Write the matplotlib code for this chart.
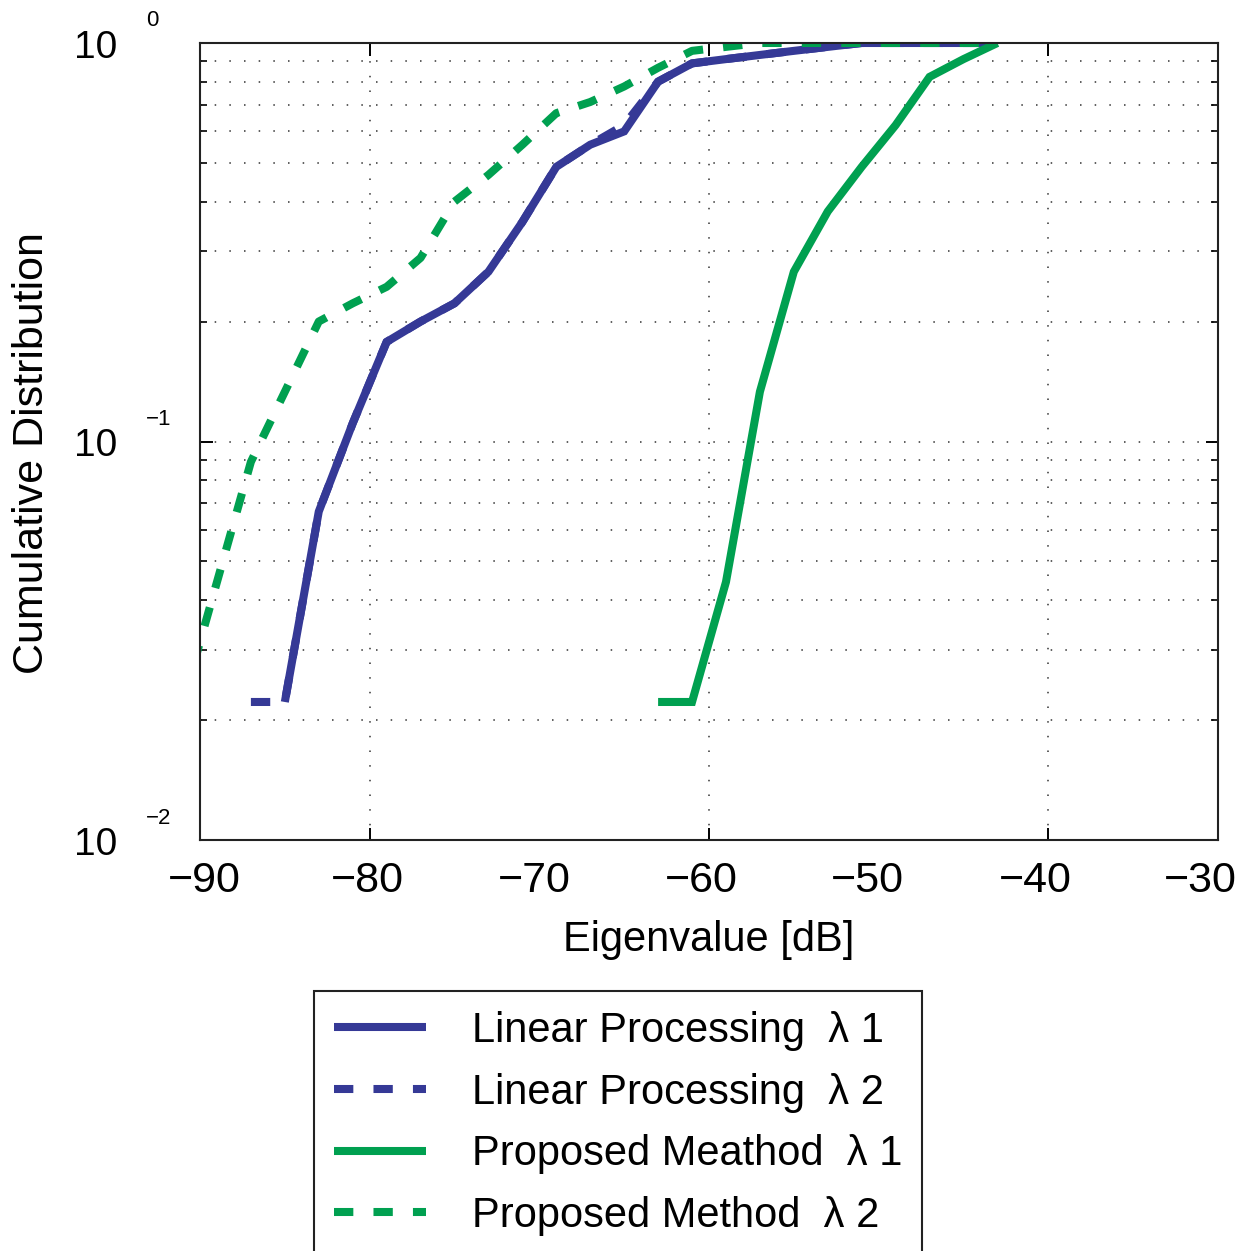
import matplotlib
matplotlib.use('Agg')
import matplotlib.pyplot as plt
from matplotlib.ticker import FixedLocator, NullFormatter, FixedFormatter
from matplotlib.transforms import offset_copy, ScaledTranslation

NARROW = ['Liberation Sans Narrow', 'Liberation Sans', 'DejaVu Sans']
plt.rcParams['font.family'] = NARROW

# ---------------- data ----------------
x_lin1 = [-85, -83, -81, -79, -77, -75, -73, -71, -69, -67, -65, -63, -61,
          -59, -57, -55, -53, -51, -49, -47, -45, -43]
y_lin1 = [0.0222, 0.0667, 0.1111, 0.1778, 0.2000, 0.2222, 0.2667, 0.3556,
          0.4889, 0.5556, 0.6000, 0.8000, 0.8889, 0.9111, 0.9333, 0.9556,
          0.9778, 1.0, 1.0, 1.0, 1.0, 1.0]

x_lin2 = [-87, -85, -83, -81, -79, -77, -75, -73, -71, -69, -67, -65, -63,
          -61, -59, -57, -55, -53, -51, -49, -47, -45, -43]
y_lin2 = [0.0222, 0.0222, 0.0667, 0.1111, 0.1778, 0.2000, 0.2222, 0.2667,
          0.3556, 0.4889, 0.5556, 0.6222, 0.8000, 0.8889, 0.9111, 0.9333,
          0.9556, 0.9778, 1.0, 1.0, 1.0, 1.0, 1.0]

x_prop1 = [-63, -61, -59, -57, -55, -53, -51, -49, -47, -45, -43]
y_prop1 = [0.0222, 0.0222, 0.0444, 0.1333, 0.2667, 0.3778, 0.4889, 0.6222,
           0.8222, 0.9111, 1.0]

x_prop2 = [-91, -89, -87, -85, -83, -81, -79, -77, -75, -73, -71, -69, -67,
           -65, -63, -61, -59, -57, -55, -53, -51, -49, -47, -45, -43]
y_prop2 = [0.0222, 0.0444, 0.0889, 0.1333, 0.2000, 0.2222, 0.2444, 0.2889,
           0.4000, 0.4667, 0.5556, 0.6667, 0.7111, 0.7778, 0.8667, 0.9556,
           0.9778, 1.0, 1.0, 1.0, 1.0, 1.0, 1.0, 1.0, 1.0]

labels = ['Linear Processing  λ 1', 'Linear Processing  λ 2',
          'Proposed Meathod  λ 1', 'Proposed Method  λ 2']

x_ticks = [-90, -80, -70, -60, -50, -40, -30]
x_ticklabels = ['−90', '−80', '−70', '−60', '−50', '−40', '−30']
x_gridticks = [-80, -60, -40]
y_major = [1e-2, 1e-1, 1e0]
y_exp = ['−2', '−1', '0']

BLUE = '#353996'
GREEN = '#00A050'

# ---------------- figure ----------------
W, H = 1243, 1251
fig = plt.figure(figsize=(W / 100, H / 100), dpi=100)
ax = fig.add_axes([200 / W, 1 - 840 / H, 1018 / W, 797 / H])

lw = 5.8
dash = (2.4, 2.5)
ax.plot(x_lin1, y_lin1, color=BLUE, lw=lw, solid_capstyle='butt',
        solid_joinstyle='miter', label=labels[0])
ax.plot(x_lin2, y_lin2, color=BLUE, lw=lw, dashes=dash,
        dash_capstyle='butt', label=labels[1])
ax.plot(x_prop1, y_prop1, color=GREEN, lw=lw, solid_capstyle='butt',
        solid_joinstyle='miter', label=labels[2])
ax.plot(x_prop2, y_prop2, color=GREEN, lw=lw, dashes=dash,
        dash_capstyle='butt', label=labels[3])

ax.set_yscale('log')
ax.set_xlim(-90, -30)
ax.set_ylim(1e-2, 1e0)

# x ticks: labels every 10, marks + grid every 20
ax.xaxis.remove_overlapping_locs = False
ax.xaxis.set_major_locator(FixedLocator(x_ticks))
ax.xaxis.set_major_formatter(FixedFormatter(x_ticklabels))
ax.xaxis.set_minor_locator(FixedLocator(x_gridticks))
ax.xaxis.set_minor_formatter(NullFormatter())
ax.tick_params(axis='x', which='major', length=0, pad=15, labelsize=31)
ax.tick_params(axis='x', which='minor', length=9, width=1.4, direction='in',
               top=True, bottom=True)
# slight leftward drift of labels as in the reference
shifts = [4, -2, -5, -8, -11, -13, -18]
for lab, dx in zip(ax.get_xticklabels(), shifts):
    lab.set_transform(lab.get_transform() + ScaledTranslation(dx / 100, 0, fig.dpi_scale_trans))

# y ticks
ax.yaxis.set_major_formatter(NullFormatter())
ax.yaxis.set_minor_formatter(NullFormatter())
ax.tick_params(axis='y', which='major', length=9, width=1.4, direction='in',
               left=True, right=True)
ax.tick_params(axis='y', which='minor', length=5, width=1.2, direction='in',
               left=True, right=True)

grid_kw = dict(color='#333333', lw=1.1, dashes=(1.0, 8.6))
ax.xaxis.grid(True, which='minor', **grid_kw)
ax.yaxis.grid(True, which='both', **grid_kw)
ax.set_axisbelow(True)

for s in ax.spines.values():
    s.set_linewidth(1.5)
    s.set_color('#222222')

# MATLAB-like y tick labels
ytr = ax.get_yaxis_transform()
for v, e in zip(y_major, y_exp):
    ax.text(-0.081, v, '10', transform=offset_copy(ytr, fig=fig, x=0, y=-5, units='dots'),
            ha='right', va='center', fontsize=28,
            family=['Liberation Sans', 'DejaVu Sans'], clip_on=False)
    ax.text(-0.053, v, e, transform=offset_copy(ytr, fig=fig, x=0, y=22, units='dots'),
            ha='left', va='center', fontsize=16,
            family=['Liberation Sans', 'DejaVu Sans'], clip_on=False)

ax.set_xlabel('Eigenvalue [dB]', fontsize=30, labelpad=14)
ax.set_ylabel('Cumulative Distribution', fontsize=31)
ax.yaxis.set_label_coords(-0.145, 0.485)

leg = ax.legend(loc='upper left', bbox_to_anchor=(314 / W, 1 - 991 / H),
                bbox_transform=fig.transFigure, fontsize=30,
                handlelength=2.2, handletextpad=1.1, borderpad=0.48,
                labelspacing=0.52, borderaxespad=0, fancybox=False,
                framealpha=1, edgecolor='#222222')
leg.get_frame().set_linewidth(1.5)

fig.savefig('out.png', dpi=100)
